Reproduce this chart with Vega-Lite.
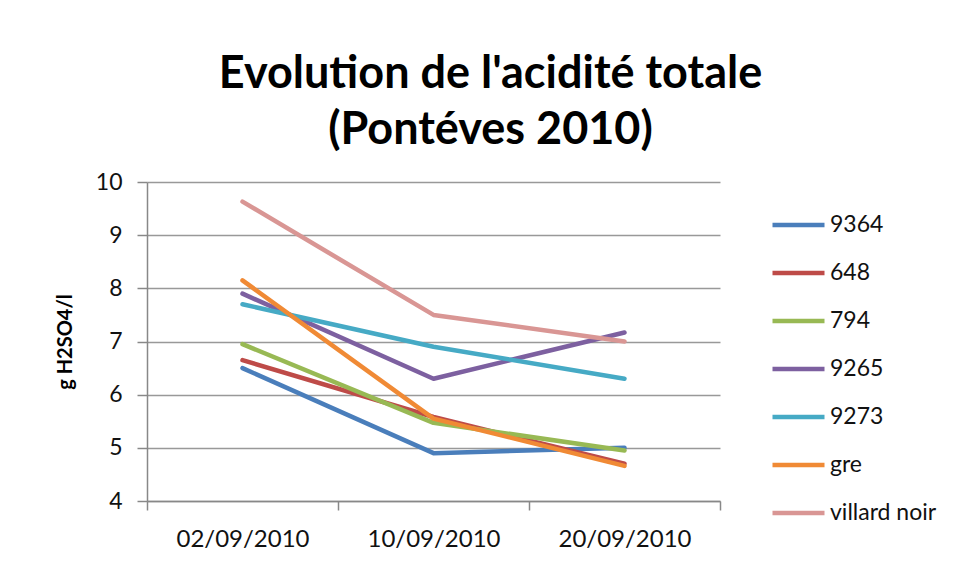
{
  "$schema": "https://vega.github.io/schema/vega-lite/v6.json",
  "width": 573,
  "height": 319,
  "autosize": {"type": "none"},
  "padding": {"left": 147, "top": 182, "right": 236, "bottom": 74},
  "background": "white",
  "title": {
    "text": ["Evolution de l'acidité totale", "(Pontéves 2010)"],
    "fontSize": 45,
    "font": "Lato",
    "fontWeight": "bold",
    "color": "#000000",
    "anchor": "middle",
    "dx": 57,
    "lineHeight": 56,
    "offset": 18
  },
  "data": {
    "values": [
      {"date": "02/09/2010", "variete": "9364", "acidite": 6.5},
      {"date": "10/09/2010", "variete": "9364", "acidite": 4.9},
      {"date": "20/09/2010", "variete": "9364", "acidite": 5.0},
      {"date": "02/09/2010", "variete": "648", "acidite": 6.65},
      {"date": "10/09/2010", "variete": "648", "acidite": 5.58},
      {"date": "20/09/2010", "variete": "648", "acidite": 4.7},
      {"date": "02/09/2010", "variete": "794", "acidite": 6.95},
      {"date": "10/09/2010", "variete": "794", "acidite": 5.47},
      {"date": "20/09/2010", "variete": "794", "acidite": 4.95},
      {"date": "02/09/2010", "variete": "9265", "acidite": 7.9},
      {"date": "10/09/2010", "variete": "9265", "acidite": 6.3},
      {"date": "20/09/2010", "variete": "9265", "acidite": 7.17},
      {"date": "02/09/2010", "variete": "9273", "acidite": 7.7},
      {"date": "10/09/2010", "variete": "9273", "acidite": 6.9},
      {"date": "20/09/2010", "variete": "9273", "acidite": 6.3},
      {"date": "02/09/2010", "variete": "gre", "acidite": 8.15},
      {"date": "10/09/2010", "variete": "gre", "acidite": 5.55},
      {"date": "20/09/2010", "variete": "gre", "acidite": 4.66},
      {"date": "02/09/2010", "variete": "villard noir", "acidite": 9.63},
      {"date": "10/09/2010", "variete": "villard noir", "acidite": 7.5},
      {"date": "20/09/2010", "variete": "villard noir", "acidite": 7.0}
    ]
  },
  "mark": {"type": "line", "strokeWidth": 4.5, "strokeCap": "round", "strokeJoin": "round"},
  "encoding": {
    "x": {
      "field": "date",
      "type": "ordinal",
      "scale": {"paddingInner": 0, "paddingOuter": 0},
      "axis": {
        "title": null,
        "labelAngle": 0,
        "labelFontSize": 24,
        "labelFont": "Lato",
        "labelColor": "#111111",
        "labelPadding": 17,
        "tickBand": "extent",
        "tickSize": 9,
        "tickColor": "#888888",
        "domainColor": "#888888",
        "domainWidth": 1.5,
        "tickWidth": 1.5,
        "grid": false
      }
    },
    "y": {
      "field": "acidite",
      "type": "quantitative",
      "scale": {"domain": [4, 10], "nice": false, "zero": false},
      "axis": {
        "title": "g H2SO4/l",
        "titleFontSize": 20,
        "titleFont": "Lato",
        "titleFontWeight": "bold",
        "titleColor": "#000000",
        "titlePadding": 20,
        "values": [4, 5, 6, 7, 8, 9, 10],
        "labelFontSize": 23,
        "labelFont": "Lato",
        "labelColor": "#111111",
        "labelPadding": 15,
        "tickSize": 10,
        "tickColor": "#888888",
        "tickWidth": 1.5,
        "domainColor": "#888888",
        "domainWidth": 1.5,
        "grid": true,
        "gridColor": "#999999",
        "gridWidth": 1.5,
        "gridOpacity": 1
      }
    },
    "color": {
      "field": "variete",
      "type": "nominal",
      "sort": ["9364", "648", "794", "9265", "9273", "gre", "villard noir"],
      "scale": {
        "domain": ["9364", "648", "794", "9265", "9273", "gre", "villard noir"],
        "range": ["#4A7EBB", "#BE4B48", "#98B954", "#7D60A0", "#46AAC5", "#F08A35", "#D99694"]
      },
      "legend": {
        "title": null,
        "orient": "none",
        "legendX": 623,
        "legendY": 19,
        "symbolType": "stroke",
        "symbolSize": 2704,
        "symbolStrokeWidth": 4.5,
        "labelFontSize": 23,
        "labelFont": "Lato",
        "labelColor": "#111111",
        "labelOffset": 3,
        "rowPadding": 0,
        "clipHeight": 48
      }
    }
  },
  "config": {"view": {"stroke": null}}
}
